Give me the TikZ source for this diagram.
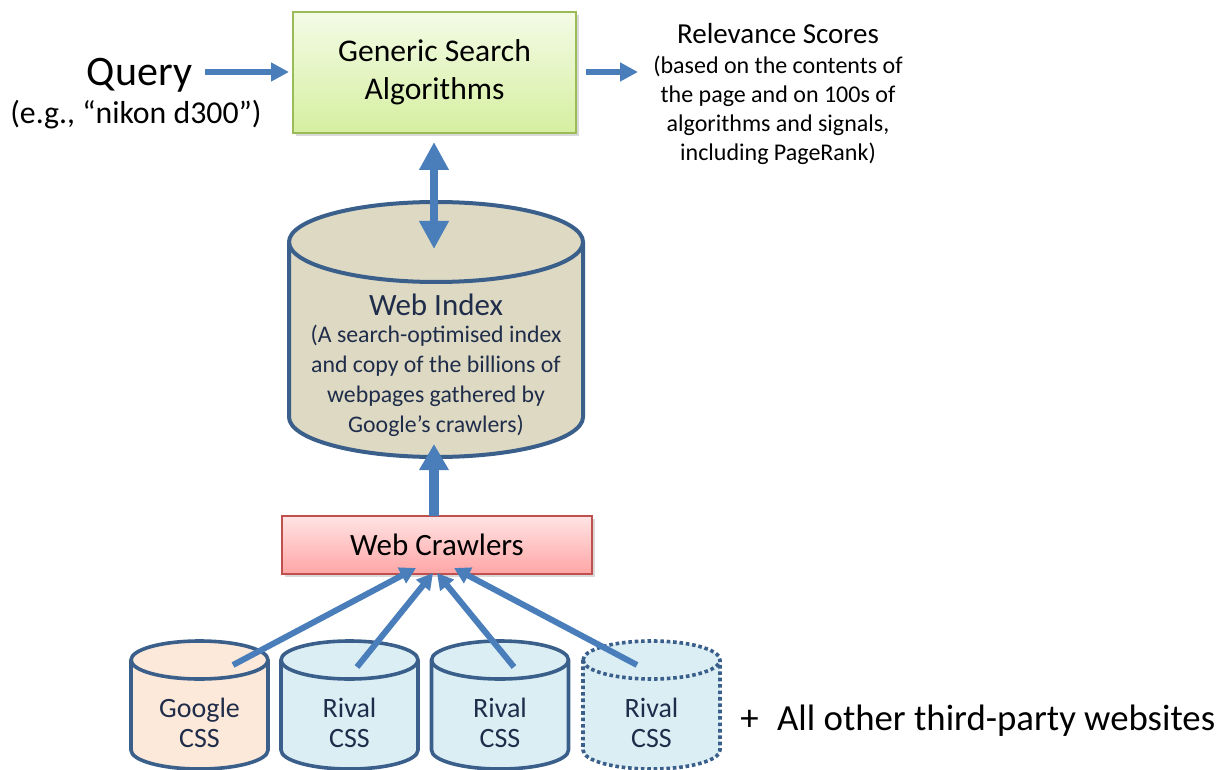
\documentclass[tikz,border=0pt]{standalone}
\usepackage{fontspec}
\setmainfont{Carlito}
\usetikzlibrary{arrows.meta,shadows}
\definecolor{arrowblue}{HTML}{4A7EBB}
\definecolor{cylborder}{HTML}{3A5F8B}
\definecolor{idxfill}{HTML}{DDD9C3}
\definecolor{gfill}{HTML}{FDE9D9}
\definecolor{rfill}{HTML}{DBEEF4}
\definecolor{navytext}{HTML}{1F2D4A}
\definecolor{greenborder}{HTML}{9BBB59}
\definecolor{greentop}{HTML}{F4FBE6}
\definecolor{greenbot}{HTML}{D5EFA0}
\definecolor{redborder}{HTML}{C0504D}
\definecolor{pinktop}{HTML}{FFE4E4}
\definecolor{pinkbot}{HTML}{FFA5A5}
\newcommand\drawcyl[6]{%
  \pgfmathsetmacro\cylrx{0.5*#5}%
  \pgfmathsetmacro\cylry{0.5*#6}%
  \path[#1] (#2-#5,#3) -- (#2-#5,#4) arc[start angle=180,end angle=360,x radius=\cylrx pt,y radius=\cylry pt] -- (#2+#5,#3) arc[start angle=0,end angle=180,x radius=\cylrx pt,y radius=\cylry pt] -- cycle;
  \path[#1,fill=none] (#2-#5,#3) arc[start angle=180,end angle=360,x radius=\cylrx pt,y radius=\cylry pt];
}
\begin{document}
\begin{tikzpicture}[x=0.5pt,y=-0.5pt,
  flow/.style={draw=arrowblue, line width=3pt, -{Triangle[length=9pt,width=9pt]}},
  thinflow/.style={draw=arrowblue, line width=3pt, -{Triangle[length=8pt,width=8.5pt]}},
  bigflow/.style={draw=arrowblue, line width=4pt, {Triangle[length=14pt,width=14pt]}-{Triangle[length=14pt,width=14pt]}},
  upflow/.style={draw=arrowblue, line width=5pt, -{Triangle[length=13pt,width=14pt]}},
  greenbox/.style={draw=greenborder, line width=1pt, top color=greentop, bottom color=greenbot,
    minimum width=141.5pt, minimum height=60.5pt, inner sep=0pt, align=center,
    font=\fontsize{15.8}{19}\selectfont, drop shadow={shadow xshift=1.5pt,shadow yshift=-1.5pt,opacity=0.3}},
  redbox/.style={draw=redborder, line width=1pt, top color=pinktop, bottom color=pinkbot,
    minimum width=155pt, minimum height=29pt, inner sep=0pt, align=center,
    font=\fontsize{15.5}{19}\selectfont, drop shadow={shadow xshift=1.5pt,shadow yshift=-1.5pt,opacity=0.3}},
  bigcyl/.style={draw=cylborder, line width=2pt, fill=idxfill},
  gcyl/.style={draw=cylborder, line width=1.8pt, fill=gfill},
  rcyl/.style={draw=cylborder, line width=1.8pt, fill=rfill},
  dcyl/.style={draw=cylborder, line width=1.8pt, fill=rfill, dash pattern=on 1.8pt off 1.4pt},
  cyltext/.style={text=navytext, align=center, inner sep=0pt, font=\fontsize{14}{15}\selectfont},
  plain/.style={inner sep=0pt, align=center}
]
\useasboundingbox (0,0) rectangle (1225,770);

% top row
\node[greenbox] (gsa) at (434.5,72.5) {Generic Search\\Algorithms};
\node[plain, anchor=base, font=\fontsize{21}{25}\selectfont] (query) at (139.5,86) {Query};
\node[plain, anchor=base, font=\fontsize{15.9}{19}\selectfont] (eg) at (136,124) {(e.g., “nikon d300”)};
\node[plain, anchor=base, font=\fontsize{14.5}{17}\selectfont] (rel) at (778,44) {Relevance Scores};
\node[plain, anchor=north, font=\fontsize{12}{14.5}\selectfont] (reltext) at (778,56)
  {(based on the contents of\\the page and on 100s of\\algorithms and signals,\\including PageRank)};

% web index cylinder
\drawcyl{bigcyl}{436}{242}{417}{147}{40}
\node[cyltext, font=\fontsize{15.5}{19}\selectfont] (idxt) at (436,305) {Web Index};
\node[cyltext, font=\fontsize{11.9}{15}\selectfont] (idxs) at (436,381)
  {(A search-optimised index\\and copy of the billions of\\webpages gathered by\\Google’s crawlers)};

% web crawlers
\node[redbox] (wc) at (437,545) {Web Crawlers};

% small cylinders
\drawcyl{gcyl}{199.5}{660}{750}{68.5}{19}
\drawcyl{rcyl}{349.5}{660}{750}{68.5}{19}
\drawcyl{rcyl}{500}{660}{750}{68.5}{19}
\drawcyl{dcyl}{651.5}{660}{750}{68.5}{19}
\node[cyltext] (gcss) at (199.5,723) {Google\\CSS};
\node[cyltext] (r1css) at (349.5,723) {Rival\\CSS};
\node[cyltext] (r2css) at (500,723) {Rival\\CSS};
\node[cyltext] (r3css) at (651.5,723) {Rival\\CSS};
\node[plain, anchor=base west, font=\fontsize{18.4}{22}\selectfont] (others) at (740,730) {+\hspace{0.5em}All other third-party websites};

% connector end points
\coordinate (qa1) at (205,72);
\coordinate (qa2) at (289,72);
\coordinate (ra1) at (586,72);
\coordinate (ra2) at (638,72);
\coordinate (da1) at (434,142);
\coordinate (da2) at (434,249);
\coordinate (ua1) at (434,516);
\coordinate (ua2) at (434,444);
\coordinate (c1s) at (233,665);
\coordinate (c1e) at (416,568);
\coordinate (c2s) at (357,667);
\coordinate (c2e) at (433,573);
\coordinate (c3s) at (514,667);
\coordinate (c3e) at (437,573);
\coordinate (c4s) at (637,665);
\coordinate (c4e) at (454,568);

% connectors
\draw[flow] (qa1) -- (qa2);
\draw[flow] (ra1) -- (ra2);
\draw[bigflow] (da1) -- (da2);
\draw[upflow] (ua1) -- (ua2);
\draw[thinflow] (c1s) -- (c1e);
\draw[thinflow] (c2s) -- (c2e);
\draw[thinflow] (c3s) -- (c3e);
\draw[thinflow] (c4s) -- (c4e);
\end{tikzpicture}
\end{document}
